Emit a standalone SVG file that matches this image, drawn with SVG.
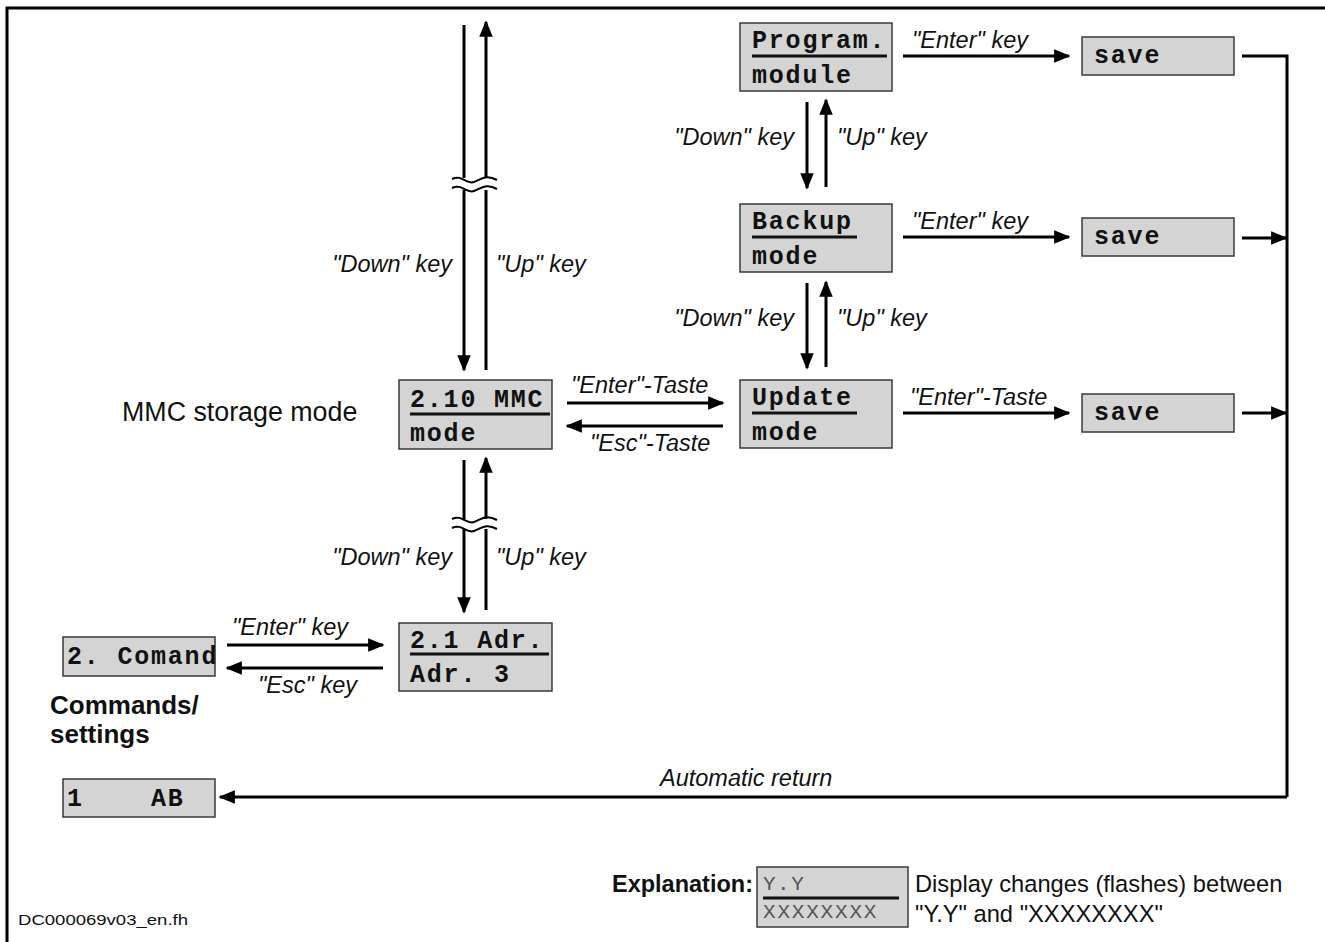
<svg xmlns="http://www.w3.org/2000/svg" width="1325" height="942" viewBox="0 0 1325 942">
<defs>
<style>
.box{fill:#d4d4d4;stroke:#3a3a3a;stroke-width:1.5}
.mono{font-family:"Liberation Mono","Courier New",monospace;font-weight:bold;font-size:25px;letter-spacing:1.8px;fill:#111;white-space:pre}
.ul{stroke:#111;stroke-width:3}
.lbl{font-family:"Liberation Sans",Arial,sans-serif;font-style:italic;font-size:23.5px;fill:#111}
.txt{font-family:"Liberation Sans",Arial,sans-serif;fill:#111}
.ln{stroke:#000;stroke-width:3;fill:none}
.ar{stroke:#000;stroke-width:3;fill:none;marker-end:url(#ah)}
.brk{stroke:#000;stroke-width:2;fill:none}
</style>
<marker id="ah" viewBox="0 0 10 10" refX="9" refY="5" markerWidth="5.5" markerHeight="4.5" orient="auto" markerUnits="strokeWidth" preserveAspectRatio="none">
<path d="M0,0 L10,5 L0,10 z" fill="#000"/>
</marker>
</defs>

<path d="M7,942 V8 H1325" stroke="#000" stroke-width="3" fill="none"/>

<g id="node-mmc">
<rect class="box" x="399" y="380" width="153" height="69"/>
<text class="mono" x="410" y="407">2.10 MMC</text>
<line class="ul" x1="410" y1="414" x2="550" y2="414"/>
<text class="mono" x="410" y="441">mode</text>
</g>
<g id="label-mmc"><text class="txt" x="122" y="421" font-size="26.8">MMC storage mode</text></g>

<g id="node-program">
<rect class="box" x="740" y="23" width="152" height="68"/>
<text class="mono" x="752" y="48">Program.</text>
<line class="ul" x1="752" y1="56" x2="887" y2="56"/>
<text class="mono" x="752" y="83">module</text>
</g>
<g id="node-backup">
<rect class="box" x="740" y="204" width="152" height="68"/>
<text class="mono" x="752" y="229">Backup</text>
<line class="ul" x1="752" y1="237" x2="857" y2="237"/>
<text class="mono" x="752" y="264">mode</text>
</g>
<g id="node-update">
<rect class="box" x="740" y="380" width="152" height="68"/>
<text class="mono" x="752" y="405">Update</text>
<line class="ul" x1="752" y1="413" x2="857" y2="413"/>
<text class="mono" x="752" y="440">mode</text>
</g>

<g id="node-save1"><rect class="box" x="1082" y="37" width="152" height="38"/><text class="mono" x="1094" y="63">save</text></g>
<g id="node-save2"><rect class="box" x="1082" y="218" width="152" height="38"/><text class="mono" x="1094" y="244">save</text></g>
<g id="node-save3"><rect class="box" x="1082" y="394" width="152" height="38"/><text class="mono" x="1094" y="420">save</text></g>

<g id="node-adr">
<rect class="box" x="399" y="623" width="153" height="68"/>
<text class="mono" x="410" y="648">2.1 Adr.</text>
<line class="ul" x1="410" y1="654" x2="549" y2="654"/>
<text class="mono" x="410" y="682">Adr. 3</text>
</g>
<g id="node-comand">
<rect class="box" x="63" y="637" width="152" height="39"/>
<text class="mono" x="67" y="664" letter-spacing="1.5">2. Comand</text>
</g>
<g id="label-commands">
<text class="txt" x="50" y="714" font-size="26" font-weight="bold">Commands/</text>
<text class="txt" x="50" y="743" font-size="26" font-weight="bold">settings</text>
</g>
<g id="node-ab">
<rect class="box" x="63" y="779" width="152" height="38"/>
<text class="mono" x="67" y="806">1    AB</text>
</g>

<g id="connectors">
<!-- top vertical pair with break -->
<line class="ln" x1="464" y1="25" x2="464" y2="178"/>
<line class="ar" x1="464" y1="190" x2="464" y2="370"/>
<line class="ln" x1="486" y1="370" x2="486" y2="190"/>
<line class="ar" x1="486" y1="178" x2="486" y2="22"/>
<path class="brk" d="M452,179 C462,174 466,185 474,182 C482,179 486,174 497,180"/>
<path class="brk" d="M452,188 C462,183 466,194 474,191 C482,188 486,183 497,189"/>
<!-- lower vertical pair with break -->
<line class="ln" x1="464" y1="460" x2="464" y2="519"/>
<line class="ar" x1="464" y1="529" x2="464" y2="612"/>
<line class="ln" x1="486" y1="610" x2="486" y2="529"/>
<line class="ar" x1="486" y1="519" x2="486" y2="458"/>
<path class="brk" d="M452,519 C462,514 466,525 474,522 C482,519 486,514 497,520"/>
<path class="brk" d="M452,528 C462,523 466,534 474,531 C482,528 486,523 497,529"/>
<!-- MMC <-> Update -->
<line class="ar" x1="567" y1="403" x2="723" y2="403"/>
<line class="ar" x1="723" y1="426" x2="567" y2="426"/>
<!-- Program <-> Backup -->
<line class="ar" x1="807" y1="102" x2="807" y2="188"/>
<line class="ar" x1="826" y1="187" x2="826" y2="100"/>
<!-- Backup <-> Update -->
<line class="ar" x1="807" y1="283" x2="807" y2="368"/>
<line class="ar" x1="826" y1="367" x2="826" y2="282"/>
<!-- Enter to save -->
<line class="ar" x1="903" y1="56" x2="1069" y2="56"/>
<line class="ar" x1="903" y1="237" x2="1069" y2="237"/>
<line class="ar" x1="903" y1="413" x2="1069" y2="413"/>
<!-- save to return -->
<path class="ln" d="M1242,56 H1287 V797"/>
<line class="ar" x1="1242" y1="238" x2="1286" y2="238"/>
<line class="ar" x1="1242" y1="413" x2="1286" y2="413"/>
<line class="ar" x1="1287" y1="797" x2="220" y2="797"/>
<!-- Comand <-> Adr -->
<line class="ar" x1="227" y1="645" x2="383" y2="645"/>
<line class="ar" x1="383" y1="668" x2="227" y2="668"/>

<text class="lbl" x="452" y="272" text-anchor="end">"Down" key</text>
<text class="lbl" x="496" y="272">"Up" key</text>
<text class="lbl" x="452" y="565" text-anchor="end">"Down" key</text>
<text class="lbl" x="496" y="565">"Up" key</text>
<text class="lbl" x="571" y="393">"Enter"-Taste</text>
<text class="lbl" x="590" y="451">"Esc"-Taste</text>
<text class="lbl" x="794" y="145" text-anchor="end">"Down" key</text>
<text class="lbl" x="837" y="145">"Up" key</text>
<text class="lbl" x="794" y="326" text-anchor="end">"Down" key</text>
<text class="lbl" x="837" y="326">"Up" key</text>
<text class="lbl" x="912" y="48">"Enter" key</text>
<text class="lbl" x="912" y="229">"Enter" key</text>
<text class="lbl" x="910" y="405">"Enter"-Taste</text>
<text class="lbl" x="232" y="635">"Enter" key</text>
<text class="lbl" x="258" y="693">"Esc" key</text>
<text class="lbl" x="660" y="786">Automatic return</text>
</g>

<g id="legend">
<text class="txt" x="753" y="892" font-size="23.5" font-weight="bold" text-anchor="end">Explanation:</text>
<rect class="box" x="757" y="867" width="151" height="60"/>
<text x="763" y="890" font-family="Liberation Mono, monospace" font-size="21" letter-spacing="1.5" fill="#555">Y.Y</text>
<line x1="763" y1="898" x2="899" y2="898" stroke="#111" stroke-width="3"/>
<text x="763" y="918" font-family="Liberation Mono, monospace" font-size="21" letter-spacing="1.8" fill="#555">XXXXXXXX</text>
<text class="txt" x="915" y="892" font-size="23.7">Display changes (flashes) between</text>
<text class="txt" x="915" y="922" font-size="23.7">"Y.Y" and "XXXXXXXX"</text>
</g>

<text class="txt" x="18" y="925" font-size="14" textLength="170" lengthAdjust="spacingAndGlyphs">DC000069v03_en.fh</text>
</svg>
